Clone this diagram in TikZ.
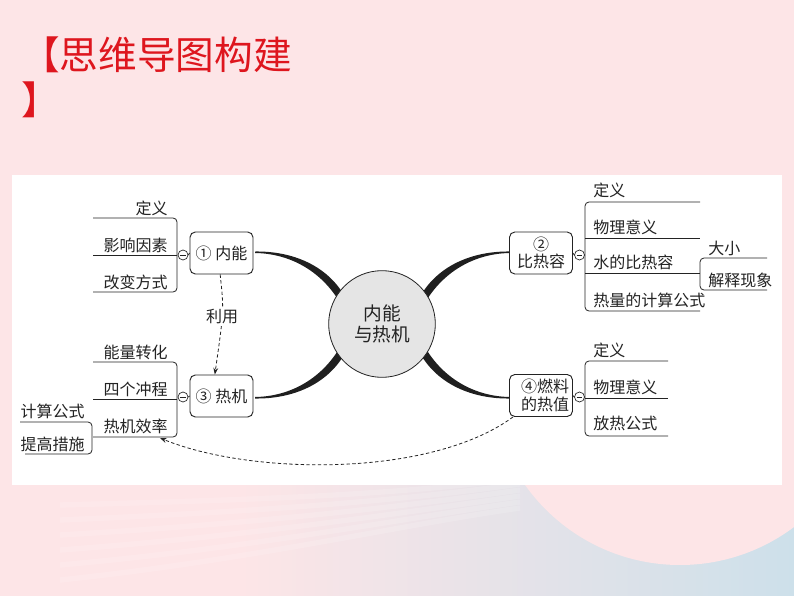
\documentclass[tikz,border=0pt]{standalone}
\usepackage{fontspec}
\setmainfont{Noto Sans CJK SC}
\usetikzlibrary{arrows.meta}
\definecolor{bgpink}{RGB}{253,229,231}
\definecolor{bgblue}{RGB}{205,224,234}
\definecolor{titlered}{RGB}{222,22,30}
\definecolor{ink}{RGB}{35,35,35}
\definecolor{hubgray}{RGB}{229,229,229}
\begin{document}
\begin{tikzpicture}[x=0.75pt,y=-0.75pt,
  lbl/.style={inner sep=0pt, font=\fontsize{12}{14}\selectfont, text=ink},
  topic/.style={draw=ink, line width=0.7pt, rounded corners=4pt, minimum width=47.25pt, minimum height=31.5pt, inner sep=0pt, font=\fontsize{12}{13}\selectfont, align=center, fill=white, text=ink},
  brk/.style={draw=ink, line width=0.6pt, rounded corners=3pt},
  minus/.style={circle, draw=ink, line width=0.5pt, minimum size=7.5pt, inner sep=0pt, fill=white,
    path picture={\draw[ink, line width=0.5pt] ([xshift=-2.2pt]path picture bounding box.center) -- ([xshift=2.2pt]path picture bounding box.center);}},
  trunk/.style={fill=black!88},
  dashlink/.style={draw=ink, line width=0.6pt, dashed, dash pattern=on 2.5pt off 1.8pt, -{Stealth[length=5pt,width=3.6pt]}},
]
\useasboundingbox (0,0) rectangle (794,596);
% background
\fill[bgpink] (0,0) rectangle (794,596);
\shade[left color=bgpink, right color=bgblue] (240,480) rectangle (794,596);
\begin{scope}
\clip (0,480) rectangle (794,596);
\foreach \k in {0,...,5}
  \draw[white, opacity=0.15, line width=4pt] (60,505+\k*15) .. controls (250,500+\k*12) and (400,495+\k*6) .. (520,478+\k*6);
\fill[bgpink] (680,375) circle[radius=142.5pt];
\end{scope}
% panel
\fill[white] (12,175) rectangle (782,485);
% title
\node[anchor=west, inner sep=0pt, text=titlered, font=\fontsize{29}{34}\selectfont] (t1) at (21,55) {【思维导图构建};
\node[anchor=west, inner sep=0pt, text=titlered, font=\fontsize{29}{34}\selectfont] (t2) at (21,100) {】};
% tapered trunks
\fill[trunk] (255,251.5) .. controls (292,251) and (326,265) .. (344,295) -- (338,299.5) .. controls (320,271) and (290,253.5) .. (255,253) -- cycle;
\fill[trunk] (510,251.5) .. controls (473,251) and (439,265) .. (421,295) -- (427,299.5) .. controls (445,271) and (475,253.5) .. (510,253) -- cycle;
\fill[trunk] (255,398.5) .. controls (292,399) and (326,385) .. (344,355) -- (338,350.5) .. controls (320,379) and (290,396.5) .. (255,397) -- cycle;
\fill[trunk] (510,398.5) .. controls (473,399) and (439,385) .. (421,355) -- (427,350.5) .. controls (445,379) and (475,396.5) .. (510,397) -- cycle;
% hub
\node[circle, draw=ink, line width=0.6pt, fill=hubgray, minimum size=80pt, inner sep=0pt, align=center, font=\fontsize{14}{16}\selectfont, text=ink] (hub) at (382,324) {内能\\与热机};
% topic boxes
\node[topic] (n1) at (221.5,253) {① 内能};
\node[topic] (n3) at (221.5,396) {③ 热机};
\node[topic] (n2) at (541,253) {②\\比热容};
\node[topic] (n4) at (541,395.5) {\hspace*{6pt}④燃料\\\hspace*{6pt}的热值};
% minus circles
\node[minus] (m1) at (183,255) {};
\node[minus] (m3) at (183,397) {};
\node[minus] (m2) at (579.5,255) {};
\node[minus] (m4) at (579.5,397) {};
\draw[ink, line width=0.6pt] (m1.east) -- (n1.west);
\draw[ink, line width=0.6pt] (m3.east) -- (n3.west);
\draw[ink, line width=0.6pt] (m2.west) -- (n2.east);
\draw[ink, line width=0.6pt] (m4.west) -- (n4.east);
% brackets
\draw[brk] (93,218) -- (177,218) -- (177,292) -- (93,292);
\draw[brk] (93,255) -- (177,255);
\draw[brk] (93,362) -- (177,362) -- (177,437) -- (93,437);
\draw[brk] (93,399) -- (177,399);
\draw[brk] (20,422) -- (92,422) -- (92,454) -- (25,454);
\draw[brk] (700,202) -- (585,202) -- (585,311) -- (700,311);
\draw[brk] (585,238) -- (700,238);
\draw[brk] (585,273) -- (700,273);
\draw[brk] (767,258) -- (700,258) -- (700,290) -- (767,290);
\draw[brk] (668,361) -- (585,361) -- (585,436) -- (668,436);
\draw[brk] (585,398) -- (668,398);
% labels left
\node[lbl, anchor=east] (a1) at (168,208) {定义};
\node[lbl, anchor=east] (a2) at (168,245) {影响因素};
\node[lbl, anchor=east] (a3) at (168,282) {改变方式};
\node[lbl, anchor=east] (c1) at (168,352) {能量转化};
\node[lbl, anchor=east] (c2) at (168,389) {四个冲程};
\node[lbl, anchor=east] (c3) at (168,426) {热机效率};
\node[lbl, anchor=east] (c31) at (85,411) {计算公式};
\node[lbl, anchor=east] (c32) at (85,444) {提高措施};
% labels right
\node[lbl, anchor=west] (b1) at (593,190) {定义};
\node[lbl, anchor=west] (b2) at (593,227) {物理意义};
\node[lbl, anchor=west] (b3) at (593,262) {水的比热容};
\node[lbl, anchor=west] (b4) at (593,300) {热量的计算公式};
\node[lbl, anchor=west] (b31) at (708,248) {大小};
\node[lbl, anchor=west] (b32) at (708,280) {解释现象};
\node[lbl, anchor=west] (d1) at (593,350) {定义};
\node[lbl, anchor=west] (d2) at (593,387) {物理意义};
\node[lbl, anchor=west] (d3) at (593,423) {放热公式};
% dashed links
\draw[dashlink] ([xshift=-1pt]n1.south) .. controls (224,310) .. ([xshift=-5pt]n3.north);
\node[lbl, fill=white, inner ysep=1pt] (use) at (222,317) {利用};
\coordinate (eff) at (160,438);
\draw[dashlink] ([xshift=3pt]n4.south west) .. controls (430,478) and (250,475) .. (eff);
\end{tikzpicture}
\end{document}
